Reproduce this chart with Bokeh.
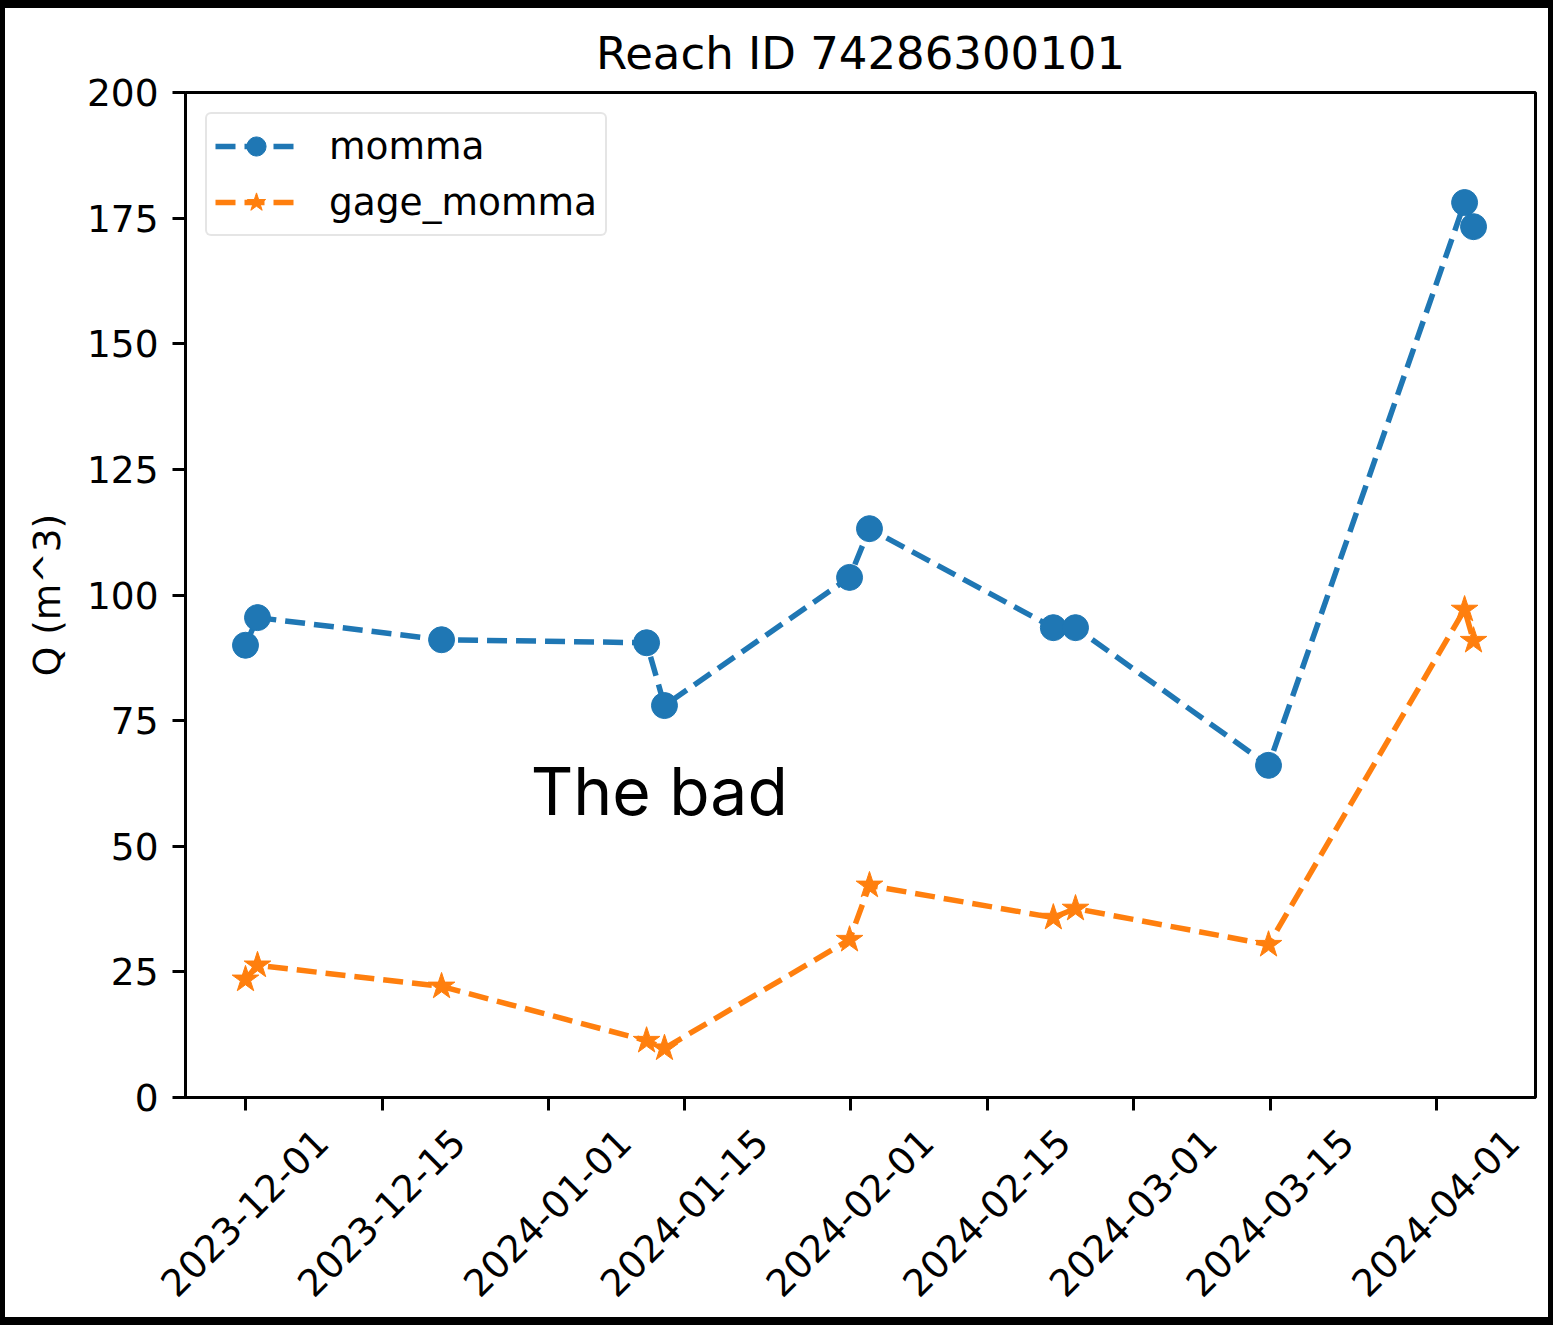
import math
import pandas as pd
from bokeh.plotting import figure
from bokeh.models import (FixedTicker, DatetimeTickFormatter, DatetimeAxis, Label,
                          Legend, LegendItem, ColumnDataSource, Range1d)
from bokeh.embed import file_html
from bokeh.resources import INLINE

# ---------------- data ----------------
dates = ["2023-12-01 00:00", "2023-12-02 05:30", "2023-12-21 02:00",
         "2024-01-11 02:00", "2024-01-12 22:00", "2024-01-31 21:00",
         "2024-02-02 22:00", "2024-02-21 18:00", "2024-02-24 00:30",
         "2024-03-14 19:00", "2024-04-03 21:00", "2024-04-04 19:00"]
momma = [90.0, 95.5, 91.1, 90.5, 78.0, 103.5, 113.2, 93.5, 93.5, 66.1, 178.1, 173.3]
gage_momma = [23.5, 26.3, 22.1, 11.3, 9.8, 31.4, 42.2, 35.8, 37.6, 30.4, 97.1, 90.9]

tick_dates = ["2023-12-01", "2023-12-15", "2024-01-01", "2024-01-15", "2024-02-01",
              "2024-02-15", "2024-03-01", "2024-03-15", "2024-04-01"]
y_ticks = [0, 25, 50, 75, 100, 125, 150, 175, 200]

title_text = "Reach ID 74286300101"
y_label = "Q (m^3)"
annotation_text = "The bad"
annotation_x = "2023-12-30 05:00"
annotation_y = 61.0

x_start = "2023-11-24 20:30"
x_end = "2024-04-11 03:20"
y_start, y_end = 0, 200

# ---------------- figure ----------------
def ms(s):
    return pd.Timestamp(s).value // 10**6

src = ColumnDataSource(dict(x=pd.to_datetime(dates), momma=momma, gage=gage_momma))

FONT = "DejaVu Sans"
FS = "37.5px"
BLUE = "#1f77b4"
ORANGE = "#ff7f0e"

p = figure(width=1553, height=1325, x_axis_type="datetime",
           output_backend="svg", toolbar_location=None,
           x_range=Range1d(ms(x_start), ms(x_end)),
           y_range=Range1d(y_start, y_end),
           min_border_left=180, min_border_right=23,
           min_border_top=84, min_border_bottom=236)
p.styles = {"border-style": "solid", "border-color": "black",
            "border-width": "8px 5px 8px 5px"}

p.title.text = title_text
p.title.text_font = FONT
p.title.text_font_size = "45px"
p.title.text_font_style = "normal"
p.title.align = "center"
p.title.text_color = "black"
p.title.standoff = 25

p.xgrid.visible = False
p.ygrid.visible = False
p.outline_line_color = "black"
p.outline_line_width = 3
p.background_fill_color = "white"
p.border_fill_color = "white"

for ax in (p.xaxis[0], p.yaxis[0]):
    ax.axis_line_color = "black"
    ax.axis_line_width = 3
    ax.major_tick_line_color = "black"
    ax.major_tick_line_width = 3
    ax.major_tick_out = 13
    ax.major_tick_in = 0
    ax.minor_tick_line_color = None
    ax.major_label_text_font = FONT
    ax.major_label_text_font_size = FS
    ax.major_label_text_color = "black"

tick_ms = [ms(d) for d in tick_dates]
fmt = "%Y-%m-%d"
date_fmt = dict(microseconds=fmt, milliseconds=fmt, seconds=fmt, minsec=fmt,
                minutes=fmt, hourmin=fmt, hours=fmt, days=fmt, months=fmt, years=fmt)

# main x axis: tick marks only
p.xaxis.ticker = FixedTicker(ticks=tick_ms)
p.xaxis.major_label_overrides = {t: "" for t in tick_ms}
p.xaxis.major_label_standoff = 0

# label-only axis: rotated labels centred under the ticks (matplotlib style).
# Bokeh right-aligns rotated labels at the tick, so this axis is offset by
# half a label's width (expressed in days) to centre them.
label_shift_days = 7.8
shift = label_shift_days * 86400000
p.extra_x_ranges = {"lbl": Range1d(ms(x_start) - shift, ms(x_end) - shift)}
lab_ax = DatetimeAxis(x_range_name="lbl", ticker=FixedTicker(ticks=tick_ms),
                      formatter=DatetimeTickFormatter(**date_fmt))
lab_ax.axis_line_color = None
lab_ax.major_tick_line_color = None
lab_ax.minor_tick_line_color = None
lab_ax.major_tick_out = 0
lab_ax.major_tick_in = 0
lab_ax.major_label_orientation = math.pi / 4
lab_ax.major_label_standoff = 25
lab_ax.major_label_text_font = FONT
lab_ax.major_label_text_font_size = FS
lab_ax.major_label_text_color = "black"
p.add_layout(lab_ax, "below")

p.yaxis.ticker = FixedTicker(ticks=y_ticks)
p.yaxis.major_label_standoff = 14
p.yaxis.axis_label = y_label
p.yaxis.axis_label_text_font = FONT
p.yaxis.axis_label_text_font_size = FS
p.yaxis.axis_label_text_font_style = "normal"
p.yaxis.axis_label_text_color = "black"
p.yaxis.axis_label_standoff = 15

# series
l1 = p.line("x", "momma", source=src, line_color=BLUE, line_width=5.5, line_dash="20 9")
s1 = p.scatter("x", "momma", source=src, marker="circle", size=26,
               fill_color=BLUE, line_color=BLUE)
l2 = p.line("x", "gage", source=src, line_color=ORANGE, line_width=5.5, line_dash="20 9")
s2 = p.scatter("x", "gage", source=src, marker="star", size=28,
               fill_color=ORANGE, line_color=ORANGE)

legend = Legend(items=[LegendItem(label="momma", renderers=[l1, s1]),
                       LegendItem(label="gage_momma", renderers=[l2, s2])],
                location="top_left")
legend.margin = 20
legend.padding = 8
legend.spacing = 8
legend.glyph_width = 82
legend.glyph_height = 48
legend.label_height = 48
legend.label_standoff = 32
legend.label_text_font = FONT
legend.label_text_font_size = FS
legend.label_text_color = "black"
legend.border_line_color = "#cccccc"
legend.border_line_width = 2
legend.border_radius = 6
legend.background_fill_color = "white"
legend.background_fill_alpha = 0.8
p.add_layout(legend)

lab = Label(x=ms(annotation_x), y=annotation_y, text=annotation_text,
            text_font="Inter", text_font_size="66px", text_color="black",
            text_baseline="alphabetic", text_align="left")
p.add_layout(lab)

open("out.html", "w").write(file_html(p, INLINE))
